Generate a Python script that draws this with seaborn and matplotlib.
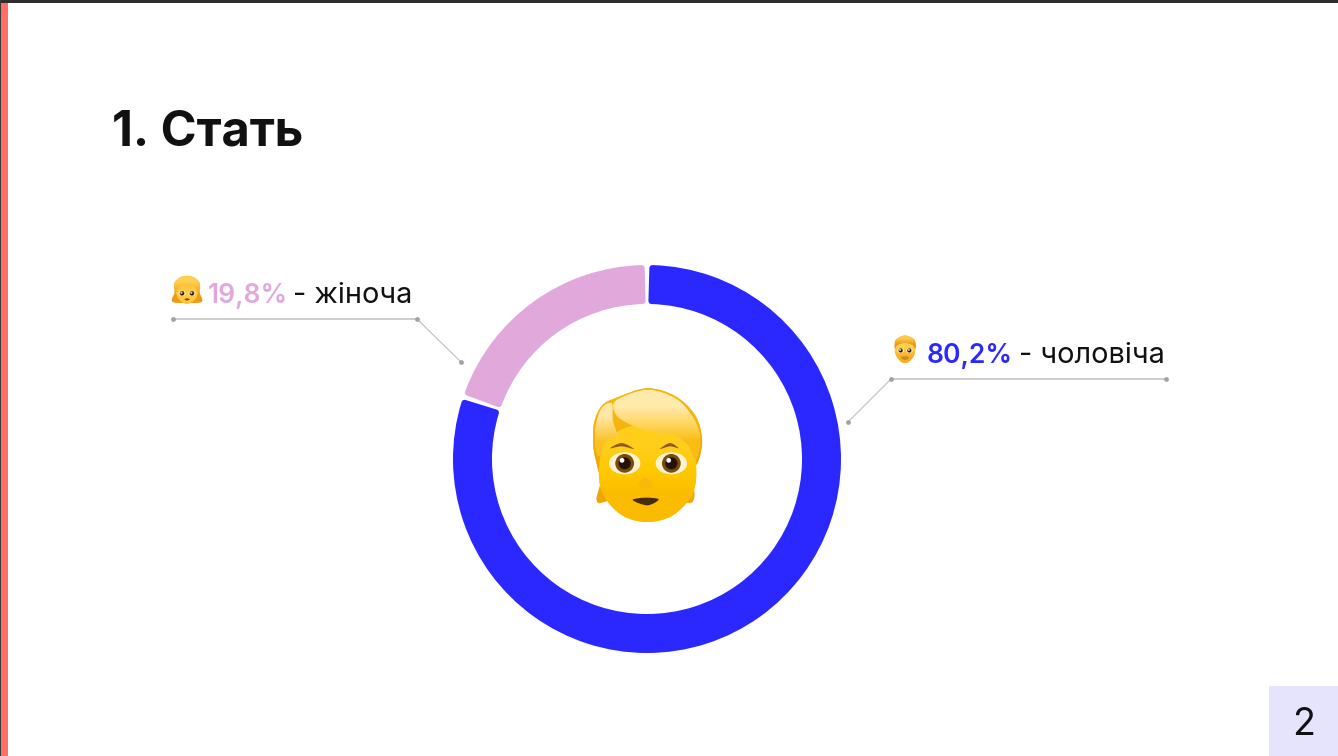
#!/usr/bin/env python3
"""Gender split donut slide"""

import numpy as np
import matplotlib
matplotlib.use("Agg")
import matplotlib.pyplot as plt
import seaborn as sns

from matplotlib.colors import LinearSegmentedColormap
from matplotlib.patches import Circle, Ellipse, PathPatch, Rectangle
from matplotlib.path import Path

# Data
genders = ["чоловіча", "жіноча"]
shares = [80.2, 19.8]
share_labels = ["80,2%", "19,8%"]
slide_title = "1. Стать"
page_number = "2"

# Colours
BLUE = "#2B27FF"
PINK = "#E1A8DC"
LINE = "#C9C9C9"
DOT = "#A3A3A3"

sns.set_theme(style="white")
plt.rcParams["font.family"] = ["Inter", "DejaVu Sans"]
palette = sns.color_palette([BLUE, PINK])


def smooth_path(points, closed=True):
    """Catmull-Rom through the points, as cubic beziers"""
    pts = np.array(points, dtype=float)
    n = len(pts)
    verts = [pts[0]]
    codes = [Path.MOVETO]
    last = n if closed else n - 1
    for i in range(last):
        p0 = pts[(i - 1) % n] if closed or i > 0 else pts[i]
        p1 = pts[i]
        p2 = pts[(i + 1) % n]
        p3 = pts[(i + 2) % n] if closed or i + 2 < n else p2
        verts += [p1 + (p2 - p0) / 6, p2 - (p3 - p1) / 6, p2]
        codes += [Path.CURVE4] * 3
    return Path(verts, codes)


def shape(ax, points, origin, scale, color, z, edge="none", lw=0, gradient=None):
    pts = (np.array(points, dtype=float) - [264, 255]) * scale + origin
    patch = PathPatch(smooth_path(pts), facecolor=color, edgecolor=edge, linewidth=lw, zorder=z)
    ax.add_patch(patch)
    if gradient is not None:
        cmap = LinearSegmentedColormap.from_list("g", gradient)
        x0, y0 = pts.min(axis=0)
        x1, y1 = pts.max(axis=0)
        im = ax.imshow([[0.0], [1.0]], cmap=cmap, extent=(x0, x1, y1, y0), origin="upper",
                       interpolation="bilinear", aspect="auto", zorder=z)
        im.set_clip_path(patch)
    return patch


def eyes(ax, origin, scale, z, gap=70, height=25):
    for ex in [264 - gap, 264 + gap]:
        c = (np.array([ex, 255 + height]) - [264, 255]) * scale + origin
        ax.add_patch(Ellipse(c, 90 * scale, 62 * scale, color="#FFF3D0", zorder=z))
        ax.add_patch(Circle(c, 26 * scale, color="#7A4A12", zorder=z + 1))
        ax.add_patch(Circle(c, 16 * scale, color="#241304", zorder=z + 2))
        ax.add_patch(Circle(c + np.array([-8, -9]) * scale, 5 * scale, color="white", zorder=z + 3))


def child_emoji(ax, origin, scale):
    back = [(110, 388), (122, 335), (112, 290), (100, 230), (102, 160), (125, 108), (165, 85),
            (260, 55), (345, 78), (405, 135), (426, 205), (418, 265), (398, 310), (402, 385),
            (370, 395), (262, 330), (135, 395)]
    shape(ax, back, origin, scale, "#F2AE0C", 5, gradient=["#F5B811", "#EFA506"])
    face = [(118, 285), (128, 370), (185, 435), (262, 456), (340, 435), (398, 370), (408, 285),
            (380, 200), (262, 160), (150, 200)]
    shape(ax, face, origin, scale, "#FFC400", 6, gradient=["#FFCE1A", "#FFC800", "#FABB00"])
    fringe = [(168, 92), (262, 60), (350, 88), (403, 150), (420, 210), (405, 268), (382, 225),
              (335, 192), (262, 182), (195, 155), (165, 128)]
    shape(ax, fringe, origin, scale, "#FFE08A", 7, gradient=["#FFEAAE", "#FFD65E", "#F9BC12"])
    lock = [(108, 165), (125, 115), (155, 100), (158, 150), (172, 205), (138, 212), (118, 258),
            (106, 225)]
    shape(ax, lock, origin, scale, "#FFDA73", 7, gradient=["#FFE8A6", "#FAC022"])
    for brow in [[(150, 235), (185, 219), (222, 237), (185, 229)],
                 [(300, 237), (330, 219), (356, 235), (330, 229)]]:
        shape(ax, brow, origin, scale, "#8F5A10", 8)
    eyes(ax, origin, scale, 8)
    shape(ax, [(235, 345), (255, 322), (278, 345), (256, 358)], origin, scale, "#F9B90A", 8)
    mouth = [(218, 390), (255, 383), (296, 388), (262, 406)]
    shape(ax, mouth, origin, scale, "#4A2A0C", 8)


def woman_emoji(ax, origin, scale):
    hair = [(40, 430), (75, 300), (75, 150), (150, 70), (264, 40), (380, 70), (455, 150),
            (455, 300), (490, 430), (264, 450)]
    shape(ax, hair, origin, scale, "#F0A51A", 5, gradient=["#FFCF4F", "#EE9A12"])
    face = [(105, 270), (135, 390), (264, 470), (395, 390), (425, 270), (340, 190), (200, 190)]
    shape(ax, face, origin, scale, "#FFC83D", 6)
    eyes(ax, origin, scale, 8, gap=75, height=50)
    shape(ax, [(225, 395), (264, 382), (305, 395), (264, 415)], origin, scale, "#8A3D10", 9)


def man_emoji(ax, origin, scale):
    face = [(100, 230), (108, 360), (190, 470), (264, 495), (340, 470), (422, 360), (430, 230),
            (264, 120)]
    shape(ax, face, origin, scale, "#FFC83D", 5, gradient=["#FFD24A", "#F6AE22"])
    hair = [(85, 250), (105, 100), (264, 22), (425, 95), (445, 250), (395, 185), (264, 150),
            (135, 185)]
    shape(ax, hair, origin, scale, "#F5A623", 6, gradient=["#FFC94D", "#E8900F"])
    eyes(ax, origin, scale, 8, gap=75, height=25)
    shape(ax, [(195, 405), (264, 380), (335, 405), (264, 445)], origin, scale, "#C98A22", 9)


def leader(ax, xs, ys):
    # horizontal part is paler and wider than the diagonal part
    sns.lineplot(x=xs[:2], y=ys[:2], ax=ax, color=LINE, linewidth=1.3, sort=False, zorder=2)
    sns.lineplot(x=xs[1:], y=ys[1:], ax=ax, color="#BDBDBD", linewidth=0.8, sort=False, zorder=2)
    ax.scatter(xs, ys, s=12, color=DOT, linewidths=0, zorder=3)


fig = plt.figure(figsize=(13.38, 7.56), dpi=100, facecolor="white")
ax = fig.add_axes([0, 0, 1, 1])

# Donut: corners are rounded with a round-joined edge, so trim each wedge to keep the gaps
wedges, _ = ax.pie(shares, colors=palette, center=(647, 459), radius=191, startangle=-90,
                   counterclock=True, frame=True,
                   wedgeprops=dict(width=33, linewidth=4.3, joinstyle="round"))
for w, c in zip(wedges, [BLUE, PINK]):
    w.set_edgecolor(c)
    w.set_theta1(w.theta1 + 1.6)
    w.set_theta2(w.theta2 - 1.6)

child_emoji(ax, np.array([648, 455]), 1 / 3)
woman_emoji(ax, np.array([187, 290]), 0.066)
man_emoji(ax, np.array([905, 349]), 0.058)

leader(ax, [173, 417, 461], [319, 319, 362])
leader(ax, [1166, 891, 848], [379, 379, 422])

# Text
ax.text(112, 145, slide_title, fontsize=35, fontweight="bold", color="#111111", va="baseline")
ax.text(208, 303, share_labels[1], fontsize=19, fontweight="semibold", color=PINK, va="baseline")
ax.text(293, 303, "- " + genders[1], fontsize=20.8, color="#111111", va="baseline")
ax.text(927, 363, share_labels[0], fontsize=19, fontweight="semibold", color=BLUE, va="baseline")
ax.text(1019, 363, "- " + genders[0], fontsize=20.8, color="#111111", va="baseline")

# Slide furniture
ax.add_patch(Rectangle((1269, 686), 69, 70, color="#E6E4FC", linewidth=0, zorder=1))
ax.text(1304, 735, page_number, fontsize=27, color="#111111", ha="center", va="baseline", zorder=2)
ax.add_patch(Rectangle((1, 3), 7, 753, color="#FF6F63", linewidth=0, zorder=9))
ax.add_patch(Rectangle((0, 0), 1338, 3, color="#2E2E2E", linewidth=0, zorder=9))
ax.add_patch(Rectangle((0, 0), 1, 756, color="#3A3A3A", linewidth=0, zorder=9))

ax.set_aspect("equal")
ax.set_xlim(0, 1338)
ax.set_ylim(756, 0)
ax.axis("off")

fig.savefig("out.png", dpi=100, facecolor="white")
